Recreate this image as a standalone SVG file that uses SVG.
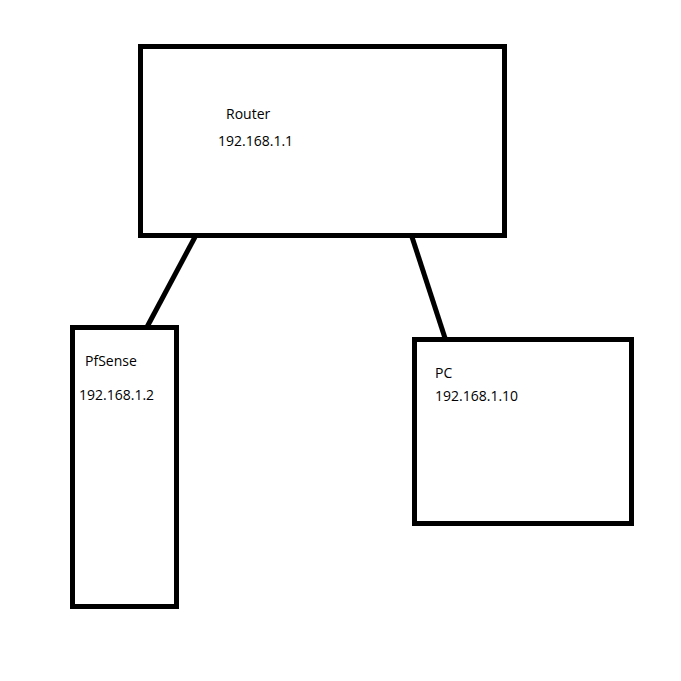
<svg xmlns="http://www.w3.org/2000/svg" width="681" height="681" viewBox="0 0 681 681">
<style>
.box{fill:#fff;stroke:#000;stroke-width:5}
.ln{stroke:#000;stroke-width:5;fill:none}
text{font-family:"Open Sans","Noto Sans",sans-serif;font-size:14px;fill:#000}
</style>
<rect width="681" height="681" fill="#fff"/>
<g id="connectors">
<line class="ln" x1="195" y1="237" x2="147" y2="327"/>
<line class="ln" x1="412" y1="237" x2="445" y2="338"/>
</g>
<g id="router">
<rect class="box" x="140.5" y="46.5" width="364" height="189"/>
<text x="226" y="119">Router</text>
<text x="218" y="146">192.168.1.1</text>
</g>
<g id="pfsense">
<rect class="box" x="72.5" y="327.5" width="104" height="279"/>
<text x="85" y="366">PfSense</text>
<text x="79" y="400">192.168.1.2</text>
</g>
<g id="pc">
<rect class="box" x="414.5" y="339.5" width="217" height="184"/>
<text x="435" y="378">PC</text>
<text x="435" y="401">192.168.1.10</text>
</g>
</svg>
